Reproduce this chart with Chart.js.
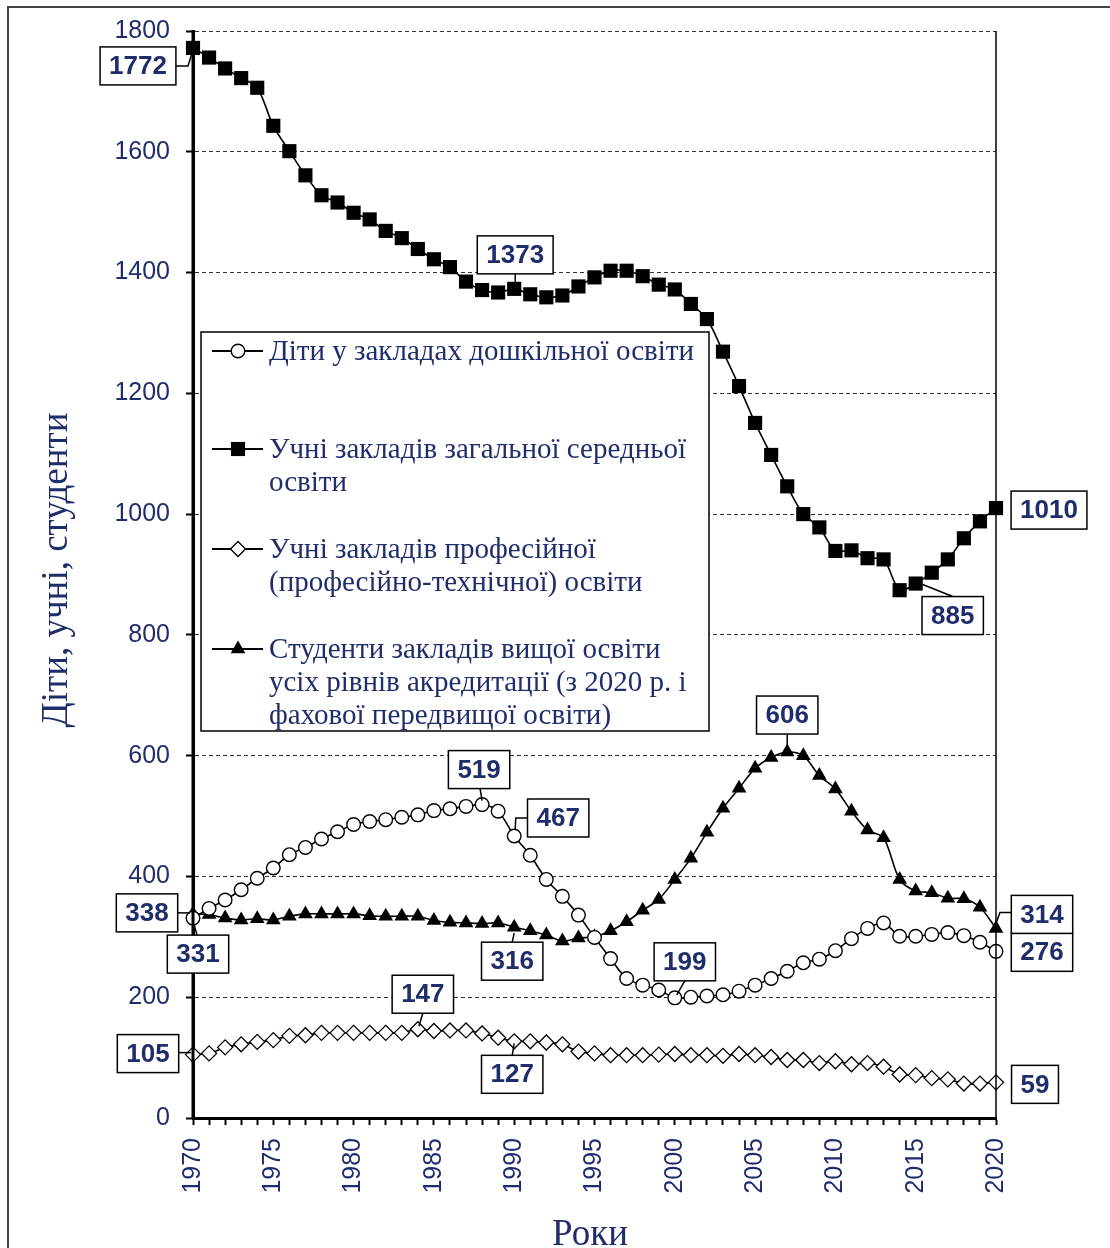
<!DOCTYPE html>
<html><head><meta charset="utf-8">
<script src="https://cdn.jsdelivr.net/npm/chart.js@4.4.0/dist/chart.umd.min.js"></script>
<style>html,body{margin:0;padding:0;background:#fff}#wrap{width:1110px;height:1248px;position:relative}</style>
</head><body><div id="wrap"><canvas id="c" width="1110" height="1248"></canvas></div>
<script>
const years = [1970,1971,1972,1973,1974,1975,1976,1977,1978,1979,1980,1981,1982,1983,1984,1985,1986,1987,1988,1989,1990,1991,1992,1993,1994,1995,1996,1997,1998,1999,2000,2001,2002,2003,2004,2005,2006,2007,2008,2009,2010,2011,2012,2013,2014,2015,2016,2017,2018,2019,2020];
const preschool = [331,347,361,378,397,414,436,448,462,474, 486,491,494,498,502,509,512,516,519,508, 467,435,395,367,336,299,264,231,220,212, 199,200,202,204,210,220,231,243,257,263, 277,297,314,323,301,301,304,307,302,291, 276];
const general = [1772,1756,1738,1722,1706,1643,1601,1561,1528,1516, 1499,1488,1469,1457,1439,1422,1409,1385,1371,1367, 1373,1364,1359,1362,1377,1392,1403,1403,1394,1380, 1372,1348,1323,1269,1212,1151,1098,1046,1000,978, 939,940,927,925,874,885,903,925,960,988, 1010];
const vocational = [105,107,117,122,126,129,136,137,141,141, 141,141,141,141,147,144,145,145,140,133, 127,127,125,122,110,107,104,104,104,105, 106,104,104,103,106,104,101,96,96,91, 94,89,91,85,72,71,66,64,57,57, 59];
const higher = [338,337,331,328,330,328,334,338,338,338, 338,335,334,334,334,327,324,323,322,323, 316,310,303,293,298,300,310,325,344,362, 395,430,473,513,546,579,597,606,600,567, 545,508,477,464,395,376,373,364,363,349, 314];
const yTicks = [0,200,400,600,800,1000,1200,1400,1600,1800];
const xTickLabels = ['1970','1975','1980','1985','1990','1995','2000','2005','2010','2015','2020'];
const seriesNames = [
  ['Діти у закладах дошкільної освіти'],
  ['Учні закладів загальної середньої', 'освіти'],
  ['Учні закладів професійної', '(професійно-технічної) освіти'],
  ['Студенти закладів вищої освіти', 'усіх рівнів акредитації (з 2020 р. і', 'фахової передвищої освіти)']
];
const yTitle = 'Діти, учні, студенти';
const xTitle = 'Роки';
// callouts: dataset index, year, label text
const calloutSeries = [1,1,1,1, 0,0,0,0,0, 3,3,3,3, 2,2,2,2];
const calloutYears  = [1970,1990,2015,2020, 1988,1990,2000,1970,2020, 2007,1970,1990,2020, 1970,1984,1990,2020];
const calloutTexts  = ['1772','1373','885','1010', '519','467','199','331','276', '606','338','316','314', '105','147','127','59'];

const NAVY = '#1f2d6b';
const styles = [
  {pointStyle:'circle', pointRadius:6.8, pointBackgroundColor:'#fff', pointBorderWidth:1.4},
  {pointStyle:'rect', pointRadius:10, pointBackgroundColor:'#000', pointBorderWidth:0},
  {pointStyle:'rectRot', pointRadius:7.5, pointBackgroundColor:'#fff', pointBorderWidth:1.3},
  {pointStyle:'triangle', pointRadius:8.5, pointBackgroundColor:'#000', pointBorderWidth:0}
];
const seriesData = [preschool, general, vocational, higher];
const datasets = seriesData.map((arr, i) => Object.assign({
  label: seriesNames[i].join(' '),
  data: arr.map((v, k) => ({x: years[k], y: v})),
  borderColor: '#000', borderWidth: 1.6, tension: 0.3,
  pointBorderColor: '#000', clip: false, pointHoverRadius: 0
}, styles[i]));

// callout box geometry (offsets relative to the data point, in px)
const boxOffsets = {
  '1772':{dx:-55,dy:18, lead:[[-17,18],[-5,18],[0,2]]},
  '1373':{dx:1,dy:-34, lead:[[1,-15],[1,-6]]},
  '885':{dx:37,dy:32, lead:[[37,13],[7,1]]},
  '1010':{dx:53,dy:2, lead:null},
  '519':{dx:-3,dy:-35, lead:[[-2,-16],[0,-4]]},
  '467':{dx:44,dy:-18, lead:[[14,-18],[1.5,-18],[1,-6]]},
  '199':{dx:10,dy:-36, lead:[[10,-17],[2,-3]]},
  '331':{dx:5,dy:36, lead:[[4,17],[1,6]]},
  '276':{dx:46,dy:1, lead:null},
  '606':{dx:0,dy:-37, lead:[[0,-18],[0,-6]]},
  '338':{dx:-46,dy:-1, lead:[[-16,-1],[-3,-1]]},
  '316':{dx:-2,dy:34, lead:[[-2,15],[0,6]]},
  '314':{dx:46,dy:-14, lead:[[16,-16],[4,-16],[0,-5]]},
  '105':{dx:-45,dy:-1, lead:[[-14,-2],[-2,-2]]},
  '147':{dx:5,dy:-35, lead:[[5,-16],[1,-3]]},
  '127':{dx:-2,dy:33, lead:[[-2,14],[0,2]]},
  '59':{dx:39,dy:2, lead:null}
};

const decor = {
  id: 'decor',
  beforeDraw(chart) {
    const c = chart.ctx;
    c.save();
    c.fillStyle = '#fff'; c.fillRect(0, 0, chart.width, chart.height);
    c.strokeStyle = '#444'; c.lineWidth = 2;
    c.strokeRect(8, 7, 1300, 1400);
    c.restore();
  },
  afterDraw(chart) {
    const c = chart.ctx, a = chart.chartArea;
    c.save();
    // axes / frame
    c.strokeStyle = '#000';
    c.lineWidth = 3;
    c.beginPath(); c.moveTo(a.left, a.top - 1); c.lineTo(a.left, a.bottom + 1); c.stroke();
    c.lineWidth = 1.5;
    c.beginPath(); c.moveTo(a.right, a.top); c.lineTo(a.right, a.bottom); c.stroke();

    // legend
    const lx = 201, ly = 332, lw = 508, lh = 399;
    c.fillStyle = '#fff'; c.fillRect(lx, ly, lw, lh);
    c.strokeStyle = '#000'; c.lineWidth = 1.5; c.strokeRect(lx, ly, lw, lh);
    const baselines = [360, 458, 558, 658];
    c.font = '29px "Liberation Serif", "Times New Roman", serif';
    c.textBaseline = 'alphabetic'; c.textAlign = 'left';
    seriesNames.forEach((lines, i) => {
      const by = baselines[i];
      const sy = by - 9;
      c.strokeStyle = '#000'; c.lineWidth = 2;
      c.beginPath(); c.moveTo(212, sy); c.lineTo(263, sy); c.stroke();
      const st = styles[i];
      c.fillStyle = st.pointBackgroundColor; c.strokeStyle = '#000';
      c.lineWidth = st.pointBorderWidth || 0;
      Chart.helpers.drawPoint(c, {pointStyle: st.pointStyle, radius: st.pointRadius, rotation: 0, borderWidth: st.pointBorderWidth}, 238, sy);
      c.fillStyle = NAVY;
      lines.forEach((t, j) => c.fillText(t, 269, by + j * 33));
    });

    // callouts
    c.font = 'bold 26px "Liberation Sans", Arial, sans-serif';
    calloutTexts.forEach((t, i) => {
      const ds = calloutSeries[i];
      const idx = years.indexOf(calloutYears[i]);
      const pt = chart.getDatasetMeta(ds).data[idx];
      const o = boxOffsets[t];
      const w = c.measureText(t).width + 18, h = 38;
      const cx = pt.x + o.dx, cy = pt.y + o.dy;
      if (o.lead) {
        c.strokeStyle = '#000'; c.lineWidth = 1.5;
        c.beginPath();
        o.lead.forEach((p, k) => { const X = pt.x + p[0], Y = pt.y + p[1]; k ? c.lineTo(X, Y) : c.moveTo(X, Y); });
        c.stroke();
      }
      c.fillStyle = '#fff'; c.fillRect(cx - w / 2, cy - h / 2, w, h);
      c.strokeStyle = '#000'; c.lineWidth = 1.5; c.strokeRect(cx - w / 2, cy - h / 2, w, h);
      c.fillStyle = NAVY; c.textAlign = 'center'; c.textBaseline = 'middle';
      c.fillText(t, cx, cy + 1);
    });

    // axis titles
    c.fillStyle = NAVY;
    c.font = '37px "Liberation Serif", "Times New Roman", serif';
    c.save();
    c.translate(57, 570); c.rotate(-Math.PI / 2);
    c.textAlign = 'center'; c.textBaseline = 'middle';
    c.fillText(yTitle, 0, 0);
    c.restore();
    c.font = '37px "Liberation Serif", "Times New Roman", serif';
    c.textAlign = 'center'; c.textBaseline = 'alphabetic';
    c.fillText(xTitle, 590, 1245);
    c.restore();
  }
};

new Chart(document.getElementById('c').getContext('2d'), {
  type: 'line',
  data: { datasets },
  plugins: [decor],
  options: {
    responsive: false, animation: false,
    events: [],
    layout: { padding: { left: 0, right: 114, top: 29, bottom: 0 } },
    plugins: { legend: { display: false }, tooltip: { enabled: false } },
    scales: {
      x: {
        type: 'linear', min: 1970, max: 2020,
        afterFit: s => { s.height = 130; },
        afterBuildTicks: s => { s.ticks = years.map(v => ({ value: v })); },
        ticks: {
          autoSkip: false, maxRotation: 90, minRotation: 90, padding: 13,
          color: NAVY, font: { family: '"Liberation Sans", Arial, sans-serif', size: 25 },
          callback: v => xTickLabels.includes(String(v)) ? String(v) : ''
        },
        grid: { drawOnChartArea: false, drawTicks: true, tickLength: 7, tickColor: '#000', tickWidth: 2 },
        border: { color: '#000', width: 3 }
      },
      y: {
        min: 0, max: 1800,
        afterFit: s => { s.width = 193; },
        afterBuildTicks: s => { s.ticks = yTicks.map(v => ({ value: v })); },
        ticks: { padding: 16, color: NAVY, font: { family: '"Liberation Sans", Arial, sans-serif', size: 25 },
                 callback: v => String(v) },
        grid: { color: '#333', lineWidth: 1, tickLength: 7, tickColor: '#000', tickWidth: 2, tickBorderDash: [] },
        border: { color: '#000', width: 3, dash: [4, 3] }
      }
    }
  }
});
</script></body></html>
